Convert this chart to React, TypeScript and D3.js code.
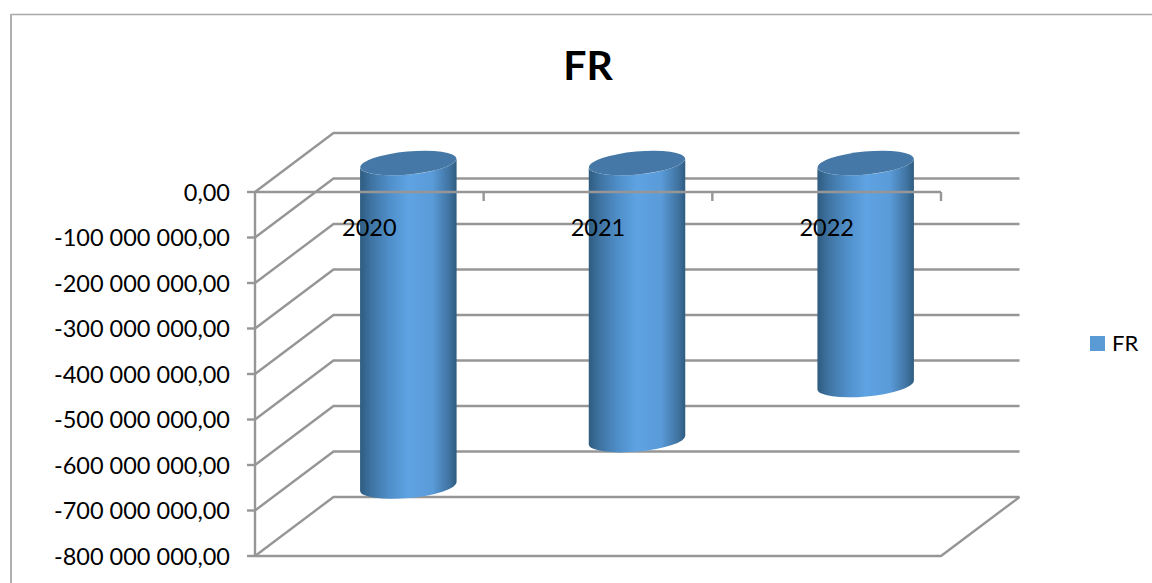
import React from "react";
import * as d3 from "d3";

const categories = ["2020", "2021", "2022"];
const seriesName = "FR";
const values = [-711000000, -609000000, -488000000];
const axisTicks = [0, -100000000, -200000000, -300000000, -400000000, -500000000, -600000000, -700000000, -800000000];
const tickLabels = [
  "0,00",
  "-100 000 000,00",
  "-200 000 000,00",
  "-300 000 000,00",
  "-400 000 000,00",
  "-500 000 000,00",
  "-600 000 000,00",
  "-700 000 000,00",
  "-800 000 000,00",
];

const WIDTH = 1152;
const HEIGHT = 583;
const FONT = "Lato, 'Open Sans', sans-serif";
const GRID = "#969696";

// Oblique projection: the back wall sits up and to the right of the front plane.
const DEPTH_X = 78.5;
const DEPTH_Y = -59;
const BAR_W = 96.5;
const CAP_RY = 11.5;
const CAP_TILT = -5.3;

const y = d3.scaleLinear().domain([0, -800000000]).range([192, 556]);
const x = d3.scaleBand<string>().domain(categories).range([255, 941]);

function cylinderBody(cx: number, topY: number, botY: number) {
  const rx = BAR_W / 2;
  const rad = (CAP_TILT * Math.PI) / 180;
  const dy = rx * Math.sin(rad);
  const l = cx - rx;
  const r = cx + rx;
  return `M${l},${topY - dy}L${l},${botY - dy}A${rx},${CAP_RY} ${CAP_TILT} 0 0 ${r},${botY + dy}L${r},${topY + dy}A${rx},${CAP_RY} ${CAP_TILT} 0 1 ${l},${topY - dy}Z`;
}

export default function App() {
  const frontL = x.range()[0];
  const frontR = x.range()[1];
  const bottom = y(-800000000);
  const midX = 39;
  const midY = DEPTH_Y / 2 + 0.5;

  return (
    <svg
      width={WIDTH}
      height={HEIGHT}
      viewBox={`0 0 ${WIDTH} ${HEIGHT}`}
      style={{ position: "absolute", left: 0, top: 0, background: "#fff" }}
    >
      <defs>
        <linearGradient id="cyl" x1="0" x2="1" y1="0" y2="0">
          <stop offset="0" stopColor="#2f5c80" />
          <stop offset="0.12" stopColor="#3f74a3" />
          <stop offset="0.3" stopColor="#4f8ec8" />
          <stop offset="0.5" stopColor="#5ea3e3" />
          <stop offset="0.75" stopColor="#5a9bd9" />
          <stop offset="0.93" stopColor="#3f729f" />
          <stop offset="1" stopColor="#2f5c80" />
        </linearGradient>
      </defs>

      {/* chart frame */}
      <path d={`M${WIDTH},14.5H11`} fill="none" stroke="#a9a9a9" strokeWidth={1.5} />
      <path d={`M11,14V${HEIGHT}`} fill="none" stroke="#b0b0b0" strokeWidth={2} />

      <text
        x={588}
        y={80}
        textAnchor="middle"
        fontFamily={FONT}
        fontSize={41}
        fontWeight={700}
        fill="#000"
      >
        {seriesName}
      </text>

      {/* side wall and back wall gridlines */}
      <g fill="none" stroke={GRID} strokeWidth={2.4}>
        {axisTicks.map((t) => (
          <path
            key={t}
            d={`M${frontL},${y(t)}L${frontL + DEPTH_X},${y(t) + DEPTH_Y}H${frontR + DEPTH_X}`}
          />
        ))}
        <path d={`M${frontL},${bottom}H${frontR}L${frontR + DEPTH_X},${bottom + DEPTH_Y}`} />
      </g>

      {/* cylinders */}
      {categories.map((c, i) => {
        const cx = (x(c) as number) + x.bandwidth() / 2 + midX;
        const topY = y(0) + midY;
        const botY = y(values[i]) + midY;
        return (
          <g key={c}>
            <path d={cylinderBody(cx, topY, botY)} fill="url(#cyl)" />
            <ellipse
              cx={cx}
              cy={topY}
              rx={BAR_W / 2}
              ry={CAP_RY}
              transform={`rotate(${CAP_TILT} ${cx} ${topY})`}
              fill="#4578a6"
            />
          </g>
        );
      })}

      {/* front axes */}
      <g fill="none" stroke={GRID} strokeWidth={2.4}>
        <path d={`M${frontL},${y(0)}V${bottom}`} />
        <path d={`M${frontL},${y(0)}H${frontR}`} />
        {axisTicks.map((t) => (
          <path key={t} d={`M${frontL - 8},${y(t)}H${frontL}`} />
        ))}
        {categories.map((c) => {
          const tx = (x(c) as number) + x.bandwidth();
          return <path key={c} d={`M${tx},${y(0)}V${y(0) + 9}`} />;
        })}
      </g>

      {axisTicks.map((t, i) => (
        <text
          key={t}
          x={230}
          y={y(t)}
          dy="0.37em"
          textAnchor="end"
          fontFamily={FONT}
          fontSize={23.5}
          fill="#000"
        >
          {tickLabels[i]}
        </text>
      ))}

      {categories.map((c) => (
        <text
          key={c}
          x={(x(c) as number) + x.bandwidth() / 2}
          y={235.5}
          textAnchor="middle"
          fontFamily={FONT}
          fontSize={23.5}
          fill="#000"
        >
          {c}
        </text>
      ))}

      {/* legend */}
      <rect x={1090} y={336} width={15} height={15} fill="#5b9bd5" />
      <text x={1112} y={351} fontFamily={FONT} fontSize={22} fill="#000">
        {seriesName}
      </text>
    </svg>
  );
}
